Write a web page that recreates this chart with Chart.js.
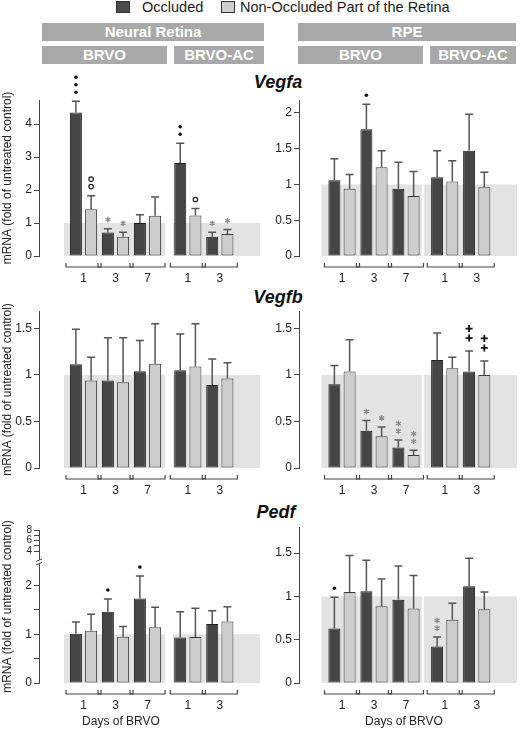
<!DOCTYPE html>
<html>
<head>
<meta charset="utf-8">
<script src="https://cdn.jsdelivr.net/npm/chart.js@4.4.1/dist/chart.umd.min.js"></script>
<style>
  body { margin: 0; background: #fff; font-family: Arial, 'Liberation Sans', sans-serif; }
  #wrap { position: relative; width: 520px; height: 730px; overflow: hidden; }
  canvas { position: absolute; }
  .sq { position: absolute; width: 12px; height: 10px; border: 1px solid #333; }
  .lg { position: absolute; top: 0; font-size: 14.5px; line-height: 15px; color: #1a1a1a; }
  .box { position: absolute; height: 18px; line-height: 18px; background: #a9a9a9; color: #fff;
         font-weight: bold; font-size: 15px; text-align: center; }
  .gene { position: absolute; font-weight: bold; font-style: italic; font-size: 18px; color: #111;
          transform: translate(-50%, -50%); white-space: nowrap; }
  .xt { position: absolute; font-size: 12px; color: #222; transform: translate(-50%, -50%); white-space: nowrap; }
</style>
</head>
<body>
<div id="wrap">
  <div class="sq" style="left:116px;top:1px;background:#4a4a4a"></div>
  <div class="lg" style="left:142px">Occluded</div>
  <div class="sq" style="left:221px;top:1px;background:#cfcfcf"></div>
  <div class="lg" style="left:240px">Non-Occluded Part of the Retina</div>

  <div class="box" style="left:42px;top:23px;width:222px">Neural Retina</div>
  <div class="box" style="left:298px;top:23px;width:218px">RPE</div>
  <div class="box" style="left:42px;top:46px;width:125px">BRVO</div>
  <div class="box" style="left:174px;top:46px;width:90px">BRVO-AC</div>
  <div class="box" style="left:298px;top:46px;width:125px">BRVO</div>
  <div class="box" style="left:430px;top:46px;width:86px">BRVO-AC</div>

  <div class="gene" style="left:278px;top:82px">Vegfa</div>
  <div class="gene" style="left:278px;top:297px">Vegfb</div>
  <div class="gene" style="left:276px;top:512px">Pedf</div>

  <canvas id="cA" width="262" height="230" style="left:0;top:60px"></canvas>
  <canvas id="cB" width="258" height="230" style="left:262px;top:60px"></canvas>
  <canvas id="cC" width="262" height="212" style="left:0;top:290px"></canvas>
  <canvas id="cD" width="258" height="212" style="left:262px;top:290px"></canvas>
  <canvas id="cE" width="262" height="212" style="left:0;top:505px"></canvas>
  <canvas id="cF" width="258" height="212" style="left:262px;top:505px"></canvas>

  <div class="xt" style="left:121px;top:721px">Days of BRVO</div>
  <div class="xt" style="left:404px;top:721px">Days of BRVO</div>
</div>

<script>
// days after BRVO: BRVO 1,3,7 then BRVO-AC 1,3
const days = ['1', '3', '7', '1', '3'];

// Vegfa, neural retina
const vegfaNrOcc = [4.35, 0.71, 1.00, 2.82, 0.58];
const vegfaNrOccErr = [0.34, 0.12, 0.25, 0.60, 0.14];
const vegfaNrNon = [1.42, 0.58, 1.22, 1.23, 0.67];
const vegfaNrNonErr = [0.41, 0.14, 0.57, 0.21, 0.13];
const vegfaNrOccSig = ['•••', '*', '', '••', '*'];
const vegfaNrNonSig = ['°°', '*', '', '°', '*'];

// Vegfa, RPE
const vegfaRpeOcc = [1.06, 1.77, 0.94, 1.10, 1.47];
const vegfaRpeOccErr = [0.30, 0.35, 0.37, 0.37, 0.51];
const vegfaRpeNon = [0.94, 1.24, 0.84, 1.04, 0.96];
const vegfaRpeNonErr = [0.20, 0.23, 0.34, 0.29, 0.21];
const vegfaRpeOccSig = ['', '•', '', '', ''];
const vegfaRpeNonSig = ['', '', '', '', ''];

// Vegfb, neural retina
const vegfbNrOcc = [1.115, 0.94, 1.04, 1.05, 0.89];
const vegfbNrOccErr = [0.375, 0.46, 0.33, 0.39, 0.28];
const vegfbNrNon = [0.94, 0.92, 1.12, 1.09, 0.96];
const vegfbNrNonErr = [0.25, 0.48, 0.43, 0.46, 0.17];
const vegfbNrOccSig = ['', '', '', '', ''];
const vegfbNrNonSig = ['', '', '', '', ''];

// Vegfb, RPE
const vegfbRpeOcc = [0.90, 0.40, 0.22, 1.16, 1.036];
const vegfbRpeOccErr = [0.20, 0.11, 0.08, 0.29, 0.22];
const vegfbRpeNon = [1.036, 0.34, 0.14, 1.07, 1.00];
const vegfbRpeNonErr = [0.34, 0.10, 0.05, 0.12, 0.15];
const vegfbRpeOccSig = ['', '*', '**', '', '++'];
const vegfbRpeNonSig = ['', '*', '**', '', '++'];

// Pedf, neural retina
const pedfNrOcc = [1.01, 1.46, 1.73, 0.93, 1.21];
const pedfNrOccErr = [0.24, 0.26, 0.46, 0.53, 0.27];
const pedfNrNon = [1.07, 0.95, 1.14, 0.945, 1.26];
const pedfNrNonErr = [0.34, 0.21, 0.41, 0.585, 0.30];
const pedfNrOccSig = ['', '•', '•', '', ''];
const pedfNrNonSig = ['', '', '', '', ''];

// Pedf, RPE
const pedfRpeOcc = [0.63, 1.06, 0.96, 0.42, 1.115];
const pedfRpeOccErr = [0.36, 0.355, 0.39, 0.11, 0.325];
const pedfRpeNon = [1.05, 0.885, 0.86, 0.73, 0.85];
const pedfRpeNonErr = [0.42, 0.315, 0.38, 0.19, 0.20];
const pedfRpeOccSig = ['•', '', '', '**', ''];
const pedfRpeNonSig = ['', '', '', '', ''];

// y tick values / labels
const ticksVegfaNr = [0, 1, 2, 3, 4];
const ticksHalf2 = [0, 0.5, 1, 1.5, 2];
const ticksHalf15 = [0, 0.5, 1, 1.5];
// broken axis on Pedf neural retina: 4, 6, 8 squeezed above the break
const ticksPedfNr = [0, 0.5, 1, 1.5, 2, 2.70, 2.81, 2.92, 3.03, 3.135];
const labelsPedfNr = ['0', '', '1', '', '2', '4', '', '6', '', '8'];

// layout per column
const sides = {
  left:  { pos: [1, 2, 3, 4.26, 5.26], xMin: 0.3,    yW: 39, padR: 2, shade: [[0.39, 3.55], [3.8, null]] },
  right: { pos: [1, 2, 3, 4.21, 5.21], xMin: 0.3375, yW: 37, padR: 3, shade: [[0.36, 3.49], [3.56, null]] }
};

Chart.defaults.font.family = "Arial, 'Liberation Sans', sans-serif";
Chart.defaults.color = '#222';

function drawMark(ctx, ch, x, y) {
  if (ch === '•') {
    ctx.fillStyle = '#111';
    ctx.beginPath(); ctx.arc(x, y, 1.8, 0, Math.PI * 2); ctx.fill();
  } else if (ch === '°') {
    ctx.strokeStyle = '#222'; ctx.lineWidth = 1.2;
    ctx.beginPath(); ctx.arc(x, y, 2.2, 0, Math.PI * 2); ctx.stroke();
  } else if (ch === '*') {
    ctx.strokeStyle = '#8a8a8a'; ctx.lineWidth = 1.3;
    ctx.beginPath();
    for (let k = 0; k < 3; k++) {
      const a = Math.PI / 2 + k * Math.PI / 3;
      ctx.moveTo(x - 2.8 * Math.cos(a), y - 2.8 * Math.sin(a));
      ctx.lineTo(x + 2.8 * Math.cos(a), y + 2.8 * Math.sin(a));
    }
    ctx.stroke();
  } else if (ch === '+') {
    ctx.strokeStyle = '#111'; ctx.lineWidth = 1.8;
    ctx.beginPath();
    ctx.moveTo(x - 3.5, y); ctx.lineTo(x + 3.5, y);
    ctx.moveTo(x, y - 3.5); ctx.lineTo(x, y + 3.5);
    ctx.stroke();
  }
}

const figPlugin = {
  id: 'fig',
  beforeDraw(chart) {
    const { ctx, chartArea, scales: { x, y } } = chart;
    const cfg = chart.options.plugins.fig;
    const y0 = y.getPixelForValue(0), y1 = y.getPixelForValue(1);
    ctx.save();
    ctx.fillStyle = '#e3e3e3';
    cfg.shade.forEach(([a, b]) => {
      const xa = x.getPixelForValue(a);
      const xb = b == null ? chartArea.right : x.getPixelForValue(b);
      ctx.fillRect(xa, y1, xb - xa, y0 - y1);
    });
    ctx.restore();
  },
  afterDatasetsDraw(chart) {
    const { ctx, scales: { y } } = chart;
    ctx.save();
    chart.data.datasets.forEach((ds, i) => {
      const meta = chart.getDatasetMeta(i);
      meta.data.forEach((el, j) => {
        const top = y.getPixelForValue(ds.data[j].y + ds.err[j]);
        ctx.strokeStyle = '#555'; ctx.lineWidth = 1.5;
        ctx.beginPath();
        ctx.moveTo(el.x, el.y); ctx.lineTo(el.x, top);
        ctx.moveTo(el.x - 4, top); ctx.lineTo(el.x + 4, top);
        ctx.stroke();
        const s = ds.sig[j];
        const plus = s.indexOf('+') >= 0;
        for (let k = 0; k < s.length; k++) {
          drawMark(ctx, s[k], el.x, top - (plus ? 13 : 9) - k * (plus ? 9.5 : 7.5));
        }
      });
    });
    ctx.restore();
  },
  afterDraw(chart) {
    const { ctx, chartArea, scales: { x, y } } = chart;
    const cfg = chart.options.plugins.fig;
    const y0 = y.getPixelForValue(0);
    ctx.save();
    ctx.strokeStyle = '#444'; ctx.lineWidth = 1.2;
    cfg.pos.forEach(p => {
      const xc = x.getPixelForValue(p);
      ctx.beginPath();
      ctx.moveTo(xc - 17.5, y0 + 7); ctx.lineTo(xc - 17.5, y0 + 11);
      ctx.lineTo(xc + 17.5, y0 + 11); ctx.lineTo(xc + 17.5, y0 + 7);
      ctx.stroke();
    });
    if (cfg.breakAt != null) {
      const yb = y.getPixelForValue(cfg.breakAt), ax = chartArea.left;
      ctx.fillStyle = '#fff';
      ctx.fillRect(ax - 3, yb - 2, 6, 4);
      ctx.strokeStyle = '#444'; ctx.lineWidth = 1;
      ctx.beginPath();
      ctx.moveTo(ax - 3, yb - 0.5); ctx.lineTo(ax + 3, yb - 3);
      ctx.moveTo(ax - 3, yb + 3); ctx.lineTo(ax + 3, yb + 0.5);
      ctx.stroke();
    }
    ctx.restore();
  }
};

function makePanel(id, side, occ, occErr, occSig, non, nonErr, nonSig, yMax, yTicks, yLabels, padTop, extra) {
  const L = sides[side];
  const canvas = document.getElementById(id);
  const xMax = L.xMin + (canvas.width - L.yW - L.padR) / 40;
  const pts = arr => arr.map((v, i) => ({ x: L.pos[i], y: v }));
  extra = extra || {};
  new Chart(canvas, {
    type: 'bar',
    data: {
      datasets: [
        { label: 'Occluded', data: pts(occ), err: occErr, sig: occSig,
          backgroundColor: '#464646', borderColor: '#1e1e1e', borderWidth: 1, borderSkipped: false },
        { label: 'Non-Occluded Part of the Retina', data: pts(non), err: nonErr, sig: nonSig,
          backgroundColor: '#cdcdcd', borderColor: '#3a3a3a', borderWidth: 1, borderSkipped: false }
      ]
    },
    options: {
      responsive: false,
      animation: false,
      categoryPercentage: 0.95,
      barPercentage: 0.79,
      layout: { padding: { top: padTop, right: L.padR, left: 0, bottom: 0 } },
      plugins: {
        legend: { display: false },
        tooltip: { enabled: false },
        fig: { pos: L.pos, shade: L.shade, breakAt: extra.breakAt }
      },
      scales: {
        x: {
          type: 'linear', min: L.xMin, max: xMax,
          grid: { display: false, drawTicks: false },
          border: { display: false },
          afterBuildTicks: s => { s.ticks = L.pos.map(v => ({ value: v })); },
          afterFit: s => { s.height = 34; },
          ticks: { autoSkip: false, maxRotation: 0, padding: 15, font: { size: 12 },
                   callback: (v, i) => days[i] }
        },
        y: {
          min: 0, max: yMax,
          grid: { drawOnChartArea: false, drawTicks: true, tickLength: 5, color: '#444' },
          border: { display: true, color: '#444' },
          afterBuildTicks: s => { s.ticks = yTicks.map(v => ({ value: v })); },
          afterFit: s => { s.width = L.yW; },
          ticks: {
            autoSkip: false,
            padding: 2,
            font: c => ({ size: c.tick && c.tick.value > 2.5 && extra.breakAt ? 10 : 12 }),
            callback: (v, i) => yLabels ? yLabels[i] : String(v)
          },
          title: side === 'left'
            ? { display: true, text: 'mRNA (fold of untreated control)', font: { size: 12 }, padding: 0 }
            : { display: false }
        }
      }
    },
    plugins: [figPlugin]
  });
}

makePanel('cA', 'left', vegfaNrOcc, vegfaNrOccErr, vegfaNrOccSig, vegfaNrNon, vegfaNrNonErr, vegfaNrNonSig,
          4.73, ticksVegfaNr, null, 40);
makePanel('cB', 'right', vegfaRpeOcc, vegfaRpeOccErr, vegfaRpeOccSig, vegfaRpeNon, vegfaRpeNonErr, vegfaRpeNonSig,
          2.18, ticksHalf2, null, 40);
makePanel('cC', 'left', vegfbNrOcc, vegfbNrOccErr, vegfbNrOccSig, vegfbNrNon, vegfbNrNonErr, vegfbNrNonSig,
          1.686, ticksHalf15, null, 21);
makePanel('cD', 'right', vegfbRpeOcc, vegfbRpeOccErr, vegfbRpeOccSig, vegfbRpeNon, vegfbRpeNonErr, vegfbRpeNonSig,
          1.686, ticksHalf15, null, 21);
makePanel('cE', 'left', pedfNrOcc, pedfNrOccErr, pedfNrOccSig, pedfNrNon, pedfNrNonErr, pedfNrNonSig,
          3.135, ticksPedfNr, labelsPedfNr, 25, { breakAt: 2.48 });
makePanel('cF', 'right', pedfRpeOcc, pedfRpeOccErr, pedfRpeOccSig, pedfRpeNon, pedfRpeNonErr, pedfRpeNonSig,
          1.80, ticksHalf15, null, 22);
</script>
</body>
</html>
